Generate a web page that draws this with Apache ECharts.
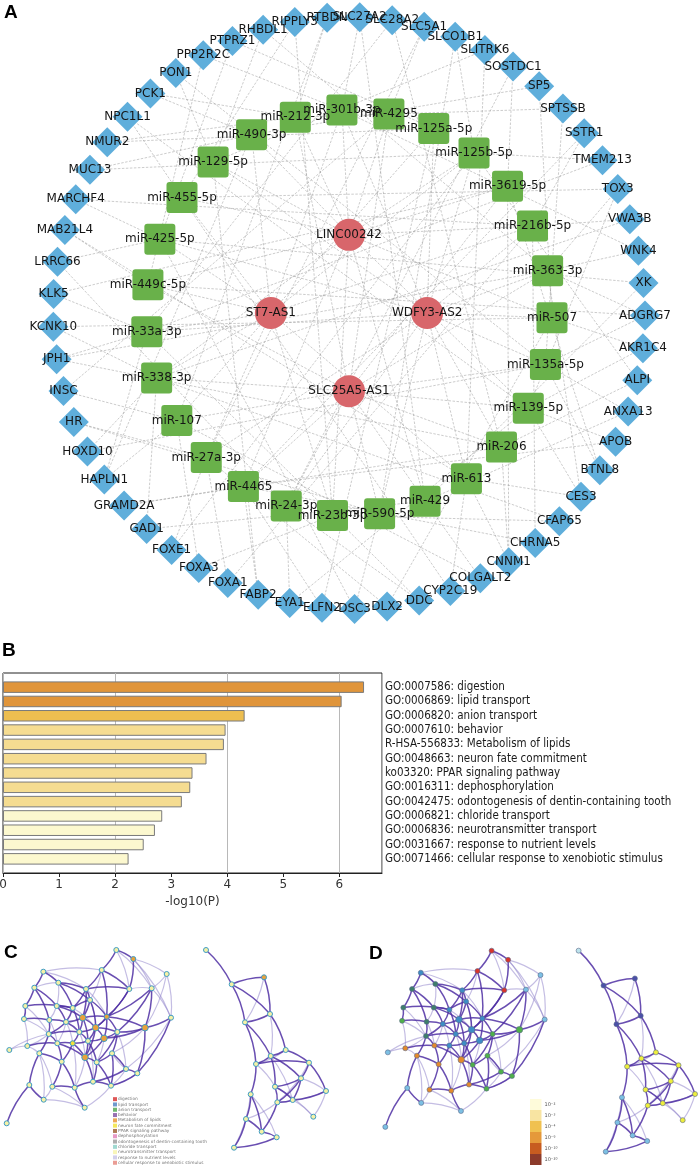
<!DOCTYPE html>
<html><head><meta charset="utf-8">
<script src="https://cdn.jsdelivr.net/npm/echarts@6/dist/echarts.min.js"></script>
<style>html,body{margin:0;padding:0;background:#fff}#c{width:700px;height:1168px}</style>
</head><body><div id="c"></div>
<script>
// ---------- Panel A data ----------
const geneNames = ['ADGRG7','AKR1C4','ALPI','ANXA13','APOB','BTNL8','CES3','CFAP65','CHRNA5','CNNM1','COLGALT2','CYP2C19','DDC','DLX2','DSC3','ELFN2','EYA1','FABP2','FOXA1','FOXA3','FOXE1','GAD1','GRAMD2A','HAPLN1','HOXD10','HR','INSC','JPH1','KCNK10','KLK5','LRRC66','MAB21L4','MARCHF4','MUC13','NMUR2','NPC1L1','PCK1','PON1','PPP2R2C','PTPRZ1','RHBDL1','RIPPLY3','RTBDN','SLC27A2','SLC28A2','SLC5A1','SLCO1B1','SLITRK6','SOSTDC1','SP5','SPTSSB','SSTR1','TMEM213','TOX3','VWA3B','WNK4','XK'];
const mirNames = ['miR-301b-3p','miR-4295','miR-125a-5p','miR-125b-5p','miR-3619-5p','miR-216b-5p','miR-363-3p','miR-507','miR-135a-5p','miR-139-5p','miR-206','miR-613','miR-429','miR-590-5p','miR-23b-3p','miR-24-3p','miR-4465','miR-27a-3p','miR-107','miR-338-3p','miR-33a-3p','miR-449c-5p','miR-425-5p','miR-455-5p','miR-129-5p','miR-490-3p','miR-212-3p'];
const lncNames = ['LINC00242','WDFY3-AS2','SLC25A5-AS1','ST7-AS1'];
const lncAngles = [0, 90, 180, 270];
// gene -> miRNA (index in mirNames), aligned with geneNames
const geneTargets = [[8,21,6],[7,9],[10,3],[8,12],[9,16],[8,4],[6,9,11],[14,19],[5,16],[10,4,11],[12,18],[11,23],[15,20],[17,7],[13,22],[16,2],[15,9],[16,24],[17,5],[18,14],[17,3],[19,12],[16,10],[20,18,25],[19,8],[17,13],[18,1],[20,6,10],[19,7],[20,4],[15,22],[21,11],[22,5],[25,3],[26,2],[23,9],[26,25],[24,8],[21,0],[22,2],[24,6],[23,14],[26,18],[0,12],[20,10],[1,17],[13,3],[11,24],[4,15],[25,7],[8,26],[5,16],[3,20],[6,23,9],[5,19],[6,0],[22,12]];
// lncRNA -> miRNA
const lncTargets = [
  [0,1,3,4,5,7,9,12,14,16,19,21,23,24,25,26],
  [0,2,3,5,6,7,8,10,11,13,15,17,20,22,24],
  [1,4,6,8,9,10,12,13,15,16,18,19,21,26],
  [0,2,3,5,11,14,17,18,19,20,21,22,23,25]
];

// ---------- Panel B data ----------
const goTerms = ['GO:0007586: digestion','GO:0006869: lipid transport','GO:0006820: anion transport','GO:0007610: behavior','R-HSA-556833: Metabolism of lipids','GO:0048663: neuron fate commitment','ko03320: PPAR signaling pathway','GO:0016311: dephosphorylation','GO:0042475: odontogenesis of dentin-containing tooth','GO:0006821: chloride transport','GO:0006836: neurotransmitter transport','GO:0031667: response to nutrient levels','GO:0071466: cellular response to xenobiotic stimulus'];
const goValues = [6.44,6.04,4.31,3.97,3.94,3.63,3.38,3.34,3.19,2.84,2.71,2.51,2.24];
const xTicks = [0,1,2,3,4,5,6];
const xGridTicks = [0,2,4,6];

// ---------- Panels C / D network data (layout units) ----------
const netNodes = [
 [116.3,10],[133.3,19],[101.7,30],[166.7,34],[43.3,31.7],[58.3,42.7],[86,49],[129.3,49],[151.7,48.3],[34.3,47.7],
 [25.3,66],[56.7,66],[72.7,68],[90,60],[82.7,77.7],[106.7,76.7],[171,77.7],[24,79],[49.3,80],[66,82],
 [95.7,87.7],[145,87.7],[48.7,94],[79.3,92],[117.3,92],[104,98.3],[88,101],[9.3,110],[27.3,106],[57.3,103.3],
 [72.7,103.3],[39.3,113.3],[112,113.3],[85,117.3],[61.7,121.7],[96.7,122.3],[126,129],[137.3,133.3],[52.3,146.7],[74.7,147.7],
 [93,141.7],[111,145.7],[29.3,145],[43.7,159.7],[84.7,167.7],[6.7,183.3],
 [206,10],[264,37.3],[231.7,44.3],[270,74],[245,82.3],[285.7,110],[270.7,116],[256,124],[309,122.7],[301,138.3],
 [275,146.7],[326,151],[250.7,154.3],[292.7,160],[277.3,162.3],[313.3,176.7],[246,179],[261.7,191.7],[276.7,197.3],[234,207.7]
];
const netDarkEdges = '0-1 0-2 1-7 2-7 2-6 5-6 4-5 4-9 6-13 5-12 9-11 11-12 12-13 13-14 13-15 14-15 14-20 15-20 12-19 11-19 19-23 20-23 20-24 20-25 15-21 21-24 24-25 25-26 23-26 26-33 25-33 33-35 32-35 24-32 22-29 29-30 30-33 29-34 34-38 31-34 33-40 35-40 35-41 40-41 39-40 38-39 21-37 36-37 32-36 16-21 16-37 8-21 7-15 6-12 10-17 17-18 18-22 22-23 28-29 42-31 43-42 45-42 44-39 14-19 10-12 18-19 30-34 26-30 9-10 14-23 6-7 8-15 ' +
  '13-20 15-24 14-26 20-26 12-23 19-22 23-30 24-35 32-41 36-40 20-33 15-25 6-14 7-20 21-25 8-24 11-14 5-13 2-15 9-18 22-31 29-33 26-35 34-39 37-41 ' +
  'R0-R2 R2-R1 R1-R3 R2-R3 R2-R4 R3-R4 R4-R6 R4-R7 R3-R5 R5-R6 R6-R7 R5-R8 R7-R8 R6-R9 R8-R9 R8-R11 R9-R10 R10-R13 R10-R14 R13-R14 R11-R13 R7-R12 R12-R16 R12-R17 R16-R17 R17-R18 R16-R19 R18-R19 R14-R17 R9-R13 R6-R10 R9-R14';
const netLightEdges = '1-3 1-8 3-8 3-16 0-7 4-6 9-5 11-18 10-22 17-22 27-28 27-22 28-31 31-38 38-43 43-44 36-41 37-41 24-36 25-35 33-39 16-36 2-13 13-20 21-32 5-11 18-29 19-29 8-16 4-2 ' +
  '0-8 1-16 3-21 7-8 6-15 12-20 19-30 22-28 17-28 23-33 26-40 30-39 31-43 38-44 41-44 36-32 ' +
  'R1-R4 R9-R11 R11-R15 R13-R15 R10-R15 R12-R18 R14-R16 R7-R10 R8-R14 R6-R13 R5-R7 R3-R6 R12-R19 R11-R14';
const cOrange = [1,14,15,20,21,25,33,47];
const cYellow = [30];
const bigNodes = [14,20,21,25,33];
const dCluster = 'rrrlbtbrlt' + 'ttbbbblgtb' + 'bgtbgbbloo' + 'bogoogggoo' + 'ogllll' + 'cppppyyyyyyylyyyllll';
const clusterLegendColors = ['#D62D2D','#4A7FC1','#4CA64C','#7D4E9E','#E8912D','#F3E233','#9A5A2C','#E07FB8','#9A9A9A','#88CFC6','#F6F2A8','#C7C3E6','#E5857A'];
const pBins = ['10\u207B\u00B2','10\u207B\u00B3','10\u207B\u2074','10\u207B\u2076','10\u207B\u00B9\u2070','10\u207B\u00B2\u2070'];
const pBinColors = ['#FEFBDA','#F8E4A2','#F0C150','#E5993A','#C75C20','#8C3B2B'];

// ---------- build ----------
const GENE_R = 1, MIR_R = 0.686, LNC_R = 0.264;
const GENE_START = 90.5, MIR_START = -2;
const SQUARE = 'path://M3,0H28Q31,0 31,3V28Q31,31 28,31H3Q0,31 0,28V3Q0,0 3,0Z';
const nodesA = [];
geneNames.forEach((n,i)=>nodesA.push({name:n, value:[GENE_R, (GENE_START + i*360/geneNames.length) % 360], symbol:'diamond', symbolSize:30, itemStyle:{color:'#5FAEDB'}}));
mirNames.forEach((n,i)=>nodesA.push({name:n, value:[MIR_R, (MIR_START + i*360/mirNames.length + 360) % 360], symbol:SQUARE, symbolSize:31, itemStyle:{color:'#69B14A'}}));
lncNames.forEach((n,i)=>nodesA.push({name:n, value:[LNC_R, lncAngles[i]], symbol:'circle', symbolSize:32, itemStyle:{color:'#D8666B'}}));
const linksA = [];
geneTargets.forEach((t,i)=>t.forEach(m=>linksA.push({source:geneNames[i], target:mirNames[m]})));
lncTargets.forEach((t,i)=>t.forEach(m=>linksA.push({source:lncNames[i], target:mirNames[m]})));

function barColor(v){ return v >= 6 ? '#E0953B' : v >= 4 ? '#EDBE50' : v >= 3 ? '#F5DC91' : '#FCF8CF'; }

const RIGHT_OFFSET = 46;
function parseEdges(str, style){
  return str.trim().split(/\s+/).map(e=>{
    const [a,b] = e.split('-').map(s => s[0]==='R' ? RIGHT_OFFSET + Number(s.slice(1)) : Number(s));
    return {source:a, target:b, lineStyle:style};
  });
}
const darkStyle = {color:'#4F2FA3', width:1.5, opacity:0.85, curveness:0.1};
const lightStyle = {color:'#9486CC', width:1.2, opacity:0.55, curveness:0.1};
const netLinks = parseEdges(netLightEdges, lightStyle).concat(parseEdges(netDarkEdges, darkStyle));
const dColors = {r:'#D9342B', l:'#7CC0E4', b:'#3D8DC6', t:'#3E7E6A', g:'#4FB04A', o:'#E48A2C', p:'#4B50A8', y:'#EEEE3C', c:'#BDE3EC'};
const cNodes = netNodes.map((p,i)=>({value:p, symbolSize: bigNodes.includes(i) ? 6.5 : 5,
  itemStyle:{color: cOrange.includes(i) ? '#E9A23B' : cYellow.includes(i) ? '#F2E23A' : '#F6F1A6', borderColor:'#3E9CC6', borderWidth:1}}));
const dNodes = netNodes.map((p,i)=>({value:p, symbolSize: bigNodes.includes(i) ? 6.5 : 5,
  itemStyle:{color: dColors[dCluster[i]], borderColor:'#5a6a8a', borderWidth:0.6}}));
const clusterNames = goTerms.map(t=>t.slice(t.indexOf(': ')+2));

const chart = echarts.init(document.getElementById('c'), null, {renderer:'canvas'});
const letterStyle = {fontSize:19, fontWeight:'bold', fontFamily:'Liberation Sans, Arial, sans-serif', color:'#000'};
const series = [
  { type:'graph', coordinateSystem:'polar', polarIndex:0, layout:'none', silent:true,
    data:nodesA, links:linksA,
    lineStyle:{color:'#9a9a9a', width:0.6, type:[2.5,1.5], opacity:0.85},
    label:{show:true, position:'inside', fontFamily:'DejaVu Sans', fontSize:12, color:'#151515', textBorderWidth:0},
    z:2 },
  { type:'bar', name:'enrichment', xAxisIndex:2, yAxisIndex:1, barWidth:11.5, silent:true,
    data: goValues.map(v=>({value:v, itemStyle:{color:barColor(v)}})),
    itemStyle:{borderColor:'#7a7a7a', borderWidth:1} },
  { type:'graph', coordinateSystem:'cartesian2d', xAxisIndex:3, yAxisIndex:2, layout:'none', silent:true,
    data:cNodes, links:netLinks, z:3 },
  { type:'graph', coordinateSystem:'cartesian2d', xAxisIndex:4, yAxisIndex:3, layout:'none', silent:true,
    data:dNodes, links:netLinks, z:3 },
  { type:'scatter', name:'pvalue', xAxisIndex:4, yAxisIndex:3, data:[] }
];
clusterNames.forEach((n,i)=>series.push({type:'scatter', name:n, xAxisIndex:3, yAxisIndex:2, data:[], itemStyle:{color:clusterLegendColors[i]}}));

chart.setOption({
  animation:false,
  backgroundColor:'#fff',
  title:[
    {text:'A', left:4, top:3, padding:0, textStyle:letterStyle},
    {text:'B', left:2, top:641, padding:0, textStyle:letterStyle},
    {text:'C', left:4, top:943, padding:0, textStyle:letterStyle},
    {text:'D', left:369, top:944, padding:0, textStyle:letterStyle}
  ],
  polar:[{center:[349,313], radius:296}],
  angleAxis:[{polarIndex:0, type:'value', min:0, max:360, startAngle:90, clockwise:true, show:false}],
  radiusAxis:[{polarIndex:0, type:'value', min:0, max:1, show:false}],
  grid:[
    {left:3, top:673, width:379, height:200, show:true, borderColor:'#222', borderWidth:1, backgroundColor:'transparent', outerBoundsMode:'none', containLabel:false},
    {left:3, top:680, width:379, height:186, outerBoundsMode:'none', containLabel:false},
    {left:0, top:940, width:340, height:220, outerBoundsMode:'none', containLabel:false},
    {left:378.8, top:940.5, width:329.8, height:223.7, outerBoundsMode:'none', containLabel:false}
  ],
  xAxis:[
    {gridIndex:0, type:'value', min:0, max:6.76, position:'bottom',
     axisLine:{show:true, lineStyle:{color:'#222', width:1}},
     axisTick:{show:true, length:4, inside:false, lineStyle:{color:'#222'}, customValues:xTicks},
     axisLabel:{show:true, customValues:xTicks, margin:6, fontFamily:'DejaVu Sans', fontSize:12, color:'#333'},
     splitLine:{show:false},
     name:'-log10(P)', nameLocation:'middle', nameGap:23, nameTextStyle:{fontFamily:'DejaVu Sans', fontSize:12, color:'#333'}},
    {gridIndex:0, type:'value', min:0, max:6.76, position:'bottom',
     axisLine:{show:false}, axisTick:{show:false}, axisLabel:{show:false},
     splitLine:{show:true, lineStyle:{color:'#b8b8b8', width:1}, customValues:xGridTicks}, interval:2},
    {gridIndex:1, type:'value', min:0, max:6.76, show:false},
    {gridIndex:2, type:'value', min:0, max:340, show:false},
    {gridIndex:3, type:'value', min:0, max:340, show:false}
  ],
  yAxis:[
    {gridIndex:0, type:'value', min:0, max:1, show:false},
    {gridIndex:1, type:'category', data:goTerms, inverse:true, position:'right',
     axisLine:{show:false}, axisTick:{show:false}, splitLine:{show:false},
     axisLabel:{show:true, margin:3, align:'left', fontFamily:'"DejaVu Sans Condensed", "Liberation Sans Narrow", "DejaVu Sans", sans-serif', fontSize:11.5, color:'#1a1a1a', interval:0}},
    {gridIndex:2, type:'value', min:0, max:220, inverse:true, show:false},
    {gridIndex:3, type:'value', min:0, max:220, inverse:true, show:false}
  ],
  legend:{orient:'vertical', left:113, top:1097, padding:0, itemWidth:4, itemHeight:4, itemGap:1, icon:'rect', selectedMode:false,
    data:clusterNames, textStyle:{fontSize:4.3, lineHeight:4.3, color:'#777', fontFamily:'DejaVu Sans', padding:[0,0,0,-4]}},
  visualMap:[{type:'piecewise', seriesIndex:4, orient:'vertical', left:530, top:1099, padding:0, inverse:true, align:'left',
    itemWidth:11.5, itemHeight:11, itemGap:0, itemSymbol:'rect', textGap:3, showLabel:true, selectedMode:false,
    textStyle:{fontSize:5, color:'#555', fontFamily:'DejaVu Sans'},
    pieces: pBins.map((b,i)=>({value:i, label:b, color:pBinColors[i]}))}],
  series:series
});
</script></body></html>
